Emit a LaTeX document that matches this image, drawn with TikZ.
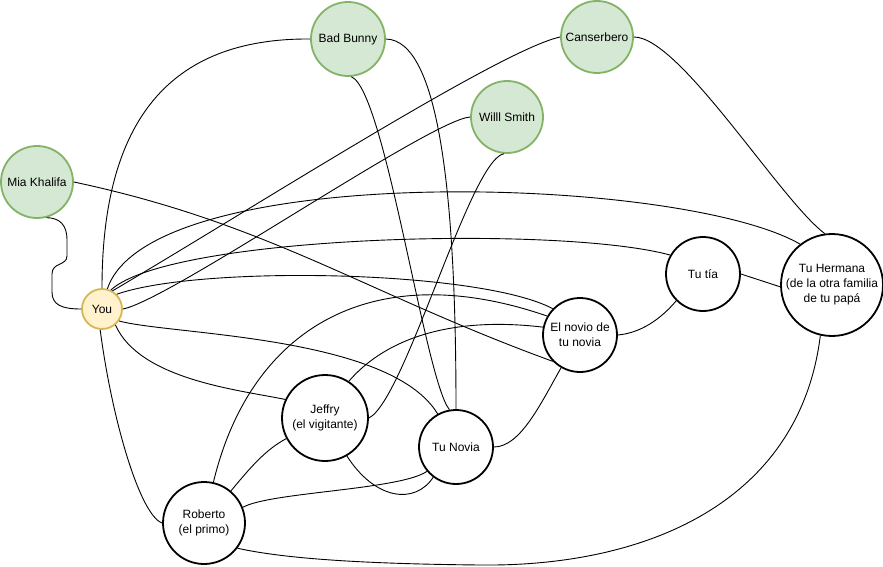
\documentclass[tikz,border=0pt]{standalone}
\usepackage{fontspec}
\setmainfont{Liberation Sans}
\usepackage{tikz}

\definecolor{famosofondo}{HTML}{D5E8D4}
\definecolor{famosoborde}{HTML}{82B366}
\definecolor{yofondo}{HTML}{FFF2CC}
\definecolor{yoborde}{HTML}{D6B656}

\begin{document}
\begin{tikzpicture}[x=1pt,y=1pt,
    persona/.style={circle,draw=black,line width=1.8pt,fill=white,inner sep=1pt,
      align=center,font=\fontsize{12}{15}\selectfont},
    famoso/.style={persona,draw=famosoborde,fill=famosofondo},
    yo/.style={persona,draw=yoborde,fill=yofondo},
    enlace/.style={line width=0.9pt}]
    \useasboundingbox (0,0) rectangle (883,-567);
    % famosos
    \node[famoso,minimum size=74pt] (bb) at (348,-39) {Bad Bunny};
    \node[famoso,minimum size=72pt] (ca) at (597,-37) {Canserbero};
    \node[famoso,minimum size=72pt] (ws) at (507,-117) {Willl Smith};
    \node[famoso,minimum size=72pt] (mk) at (37,-182) {Mia Khalifa};
    % tu
    \node[yo,minimum size=40pt] (yo) at (102,-309) {You};
    % familia y conocidos
    \node[persona,minimum size=74pt] (tia) at (703,-274) {Tu tía};
    \node[persona,minimum size=102pt,inner sep=-3pt] (hermana) at (832,-285) {Tu Hermana\\(de la otra familia\\de tu papá};
    \node[persona,minimum size=74pt] (novio) at (580,-335) {El novio de\\tu novia};
    \node[persona,minimum size=86pt] (jeffry) at (325,-418) {Jeffry\\(el vigitante)};
    \node[persona,minimum size=74pt] (novia) at (456,-447) {Tu Novia};
    \node[persona,minimum size=82pt] (roberto) at (204,-523) {Roberto\\(el primo)};
    % enlaces desde You
    \draw[enlace] (mk.285) .. controls (60,-218) and (67,-225) .. (67,-240) -- (67,-256)
      .. controls (67,-266) and (52,-262) .. (52,-274) -- (52,-292)
      .. controls (52,-305) and (62,-309) .. (yo.west);
    \draw[enlace] (yo.north) .. controls (102,-120) and (170,-38) .. (bb.west);
    \draw[enlace] (yo.60) .. controls (250,-210) and (500,-50) .. (ca.west);
    \draw[enlace] (yo.east) .. controls (170,-300) and (430,-120) .. (ws.west);
    \draw[enlace] (yo.75) .. controls (150,-160) and (680,-175) .. (hermana.128);
    \draw[enlace] (yo.65) .. controls (170,-235) and (560,-225) .. (tia.150);
    \draw[enlace] (yo.45) .. controls (200,-265) and (480,-270) .. (novio.136);
    \draw[enlace] (yo.-35) .. controls (170,-335) and (390,-335) .. (novia.119);
    \draw[enlace] (yo.-50) .. controls (140,-380) and (240,-390) .. (jeffry.155);
    \draw[enlace] (yo.-95) .. controls (112,-420) and (140,-515) .. (roberto.west);
    % enlaces de los famosos
    \draw[enlace] (mk.east) to[out=-12,in=160] (novio.224);
    \draw[enlace] (bb.east) .. controls (440,-40) and (456,-200) .. (novia.north);
    \draw[enlace] (bb.-85) .. controls (385,-90) and (425,-380) .. (novia.100);
    \draw[enlace] (ws.265) .. controls (470,-160) and (405,-400) .. (jeffry.east);
    \draw[enlace] (ca.east) .. controls (680,-37) and (780,-200) .. (hermana.98);
    % el resto
    \draw[enlace] (tia.east) -- (hermana.182);
    \draw[enlace] (tia.225) .. controls (660,-320) and (640,-333) .. (novio.east);
    \draw[enlace] (hermana.257) .. controls (800,-500) and (650,-567) .. (480,-565)
      .. controls (380,-564) and (290,-560) .. (roberto.-37);
    \draw[enlace] (novio.240) .. controls (540,-405) and (520,-447) .. (novia.east);
    \draw[enlace] (roberto.22) .. controls (270,-492) and (400,-490) .. (novia.220);
    \draw[enlace] (jeffry.-60) .. controls (375,-500) and (415,-505) .. (novia.233);
    \draw[enlace] (roberto.50) .. controls (250,-468) and (265,-450) .. (jeffry.208);
    \draw[enlace] (roberto.77) .. controls (250,-330) and (370,-255) .. (novio.150);
    \draw[enlace] (jeffry.57) .. controls (380,-345) and (440,-315) .. (novio.168);
\end{tikzpicture}
\end{document}
